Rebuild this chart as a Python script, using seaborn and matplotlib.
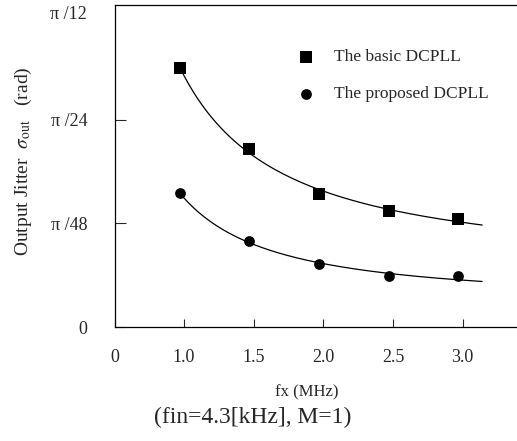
import numpy as np
import pandas as pd
import matplotlib
matplotlib.use("Agg")
import matplotlib.pyplot as plt
import seaborn as sns

# values (y in tick units: 0, pi/48, pi/24, ~pi/12)
fx = [0.97, 1.47, 1.97, 2.47, 2.97]
basic = [2.50, 1.72, 1.28, 1.12, 1.04]
proposed = [1.29, 0.83, 0.61, 0.49, 0.49]
curve_end_x = 3.14
curve_end_y = [0.99, 0.43]   # where the drawn fit lines stop
series_names = ['The basic DCPLL', 'The proposed DCPLL']
x_ticks = [0.505, 1.0, 1.5, 2.0, 2.5, 3.0]
x_labels = ['0', '1.0', '1.5', '2.0', '2.5', '3.0']
y_ticks = [0, 1, 2, 3.04]
y_labels = ['0', 'π /48', 'π /24', 'π /12']

sns.set_style('ticks')
plt.rcParams['font.family'] = ['Liberation Serif', 'DejaVu Serif']
plt.rcParams['mathtext.fontset'] = 'stix'

df = pd.DataFrame({'fx': fx * 2,
                   'jitter': basic + proposed,
                   'scheme': [series_names[0]] * 5 + [series_names[1]] * 5})

W, H = 517, 441
fig = plt.figure(figsize=(W / 100, H / 100), dpi=100)
ax = fig.add_axes([115 / W, 1 - 327 / H, 1 - 115 / W, (327 - 5) / H])

# smooth fit curves, a + b/x + c/x^2 through the read points
for ys, yend in zip([basic, proposed], curve_end_y):
    xs = np.array(fx + [curve_end_x])
    yv = np.array(ys + [yend])
    A = np.vstack([np.ones_like(xs), 1 / xs, 1 / xs ** 2]).T
    coef = np.linalg.lstsq(A, yv, rcond=None)[0]
    xx = np.linspace(fx[0], curve_end_x, 200)
    yy = coef[0] + coef[1] / xx + coef[2] / xx ** 2
    sns.lineplot(x=xx, y=yy, color='black', lw=0.9, ax=ax)

sub = df[df.scheme == series_names[0]]
sns.scatterplot(data=sub, x='fx', y='jitter', marker='s', s=80, color='black',
                edgecolor='black', linewidth=0, label=series_names[0], ax=ax, zorder=3)
sub = df[df.scheme == series_names[1]]
sns.scatterplot(data=sub, x='fx', y='jitter', marker='o', s=60, color='black',
                edgecolor='black', linewidth=0, label=series_names[1], ax=ax, zorder=3)

ax.set_xlim(0.505, 3.39)
ax.set_ylim(0, 3.11)
ax.set_xticks(x_ticks)
ax.set_xticklabels(x_labels, fontsize=13)
ax.set_yticks(y_ticks)
ax.set_yticklabels(y_labels, fontsize=13)
ax.tick_params(axis='x', direction='in', length=6, width=0.8, pad=16)
ax.tick_params(axis='y', direction='in', length=8, width=0.8, pad=20)
ax.yaxis.get_major_ticks()[3].tick1line.set_visible(False)
ax.set_xlabel('')
ax.set_ylabel('')
ax.spines['right'].set_visible(False)
for s in ['left', 'bottom', 'top']:
    ax.spines[s].set_linewidth(0.9)
    ax.spines[s].set_color('black')

ax.legend(loc='upper left', bbox_to_anchor=(297 / W, 1 - 49 / H),
          bbox_transform=fig.transFigure, frameon=False, fontsize=12.5,
          handlelength=1, handletextpad=1.15, labelspacing=1.2,
          borderpad=0, borderaxespad=0, markerscale=1.0)

fig.text(307 / W, 1 - 392 / H, 'fx (MHz)', ha='center', va='center', fontsize=12)
fig.text(253 / W, 1 - 417 / H, '(fin=4.3[kHz], M=1)', ha='center', va='center', fontsize=17)
fig.text(23 / W, 1 - 161 / H, r'Output Jitter  $\sigma_{\rm out}$   (rad)', rotation=90,
         ha='center', va='center', fontsize=14)

plt.savefig('out.png', dpi=100)
